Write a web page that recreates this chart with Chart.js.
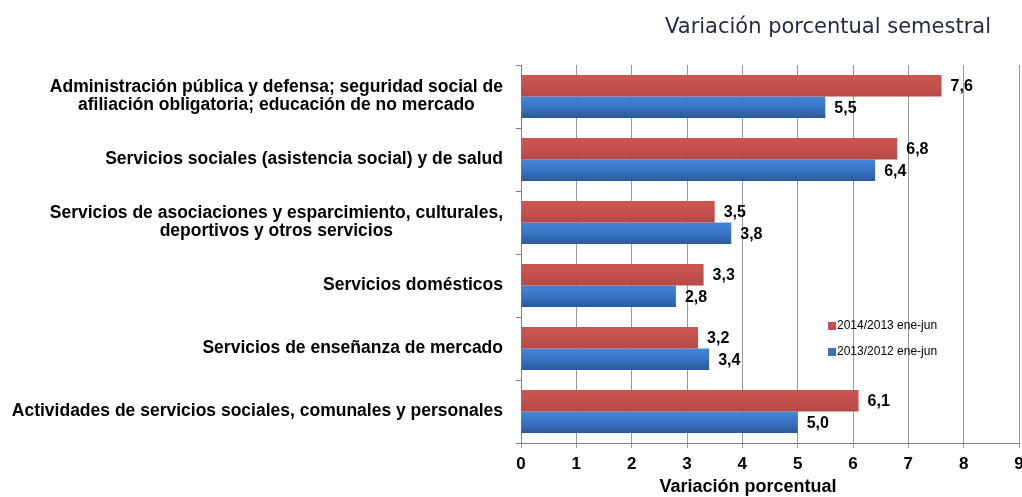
<!DOCTYPE html>
<html>
<head>
<meta charset="utf-8">
<script src="https://cdn.jsdelivr.net/npm/chart.js@4/dist/chart.umd.min.js"></script>
<style>
  html, body { margin: 0; padding: 0; background: #fff; }
  #wrap { width: 1022px; height: 497px; }
</style>
</head>
<body>
<div id="wrap"><canvas id="chart" width="1022" height="497"></canvas></div>
<script>
const categories = [
  ['Administración pública y defensa; seguridad social de', 'afiliación obligatoria; educación de no mercado'],
  ['Servicios sociales (asistencia social) y de salud'],
  ['Servicios de asociaciones y esparcimiento, culturales,', 'deportivos y otros servicios'],
  ['Servicios domésticos'],
  ['Servicios de enseñanza de mercado'],
  ['Actividades de servicios sociales, comunales y personales']
]
const serie2014 = [7.6, 6.8, 3.5, 3.3, 3.2, 6.1]
const serie2013 = [5.5, 6.4, 3.8, 2.8, 3.4, 5.0]
const seriesNames = ['2014/2013 ene-jun', '2013/2012 ene-jun']
const chartTitle = 'Variación porcentual semestral'
const axisTitle = 'Variación porcentual'

const ARIAL = '"Liberation Sans", Arial, sans-serif'
const gradStops = [
  ['#cc5551', '#c4504d', '#b54845'],
  ['#4584d6', '#3874c6', '#2b5a98']
]

// per-bar vertical gradients, value labels, title, category labels, legend
const overlay = {
  id: 'overlay',
  beforeDatasetsDraw(chart) {
    const c = chart.ctx
    chart.data.datasets.forEach((ds, di) => {
      chart.getDatasetMeta(di).data.forEach(bar => {
        const h = bar.height
        const g = c.createLinearGradient(0, bar.y - h / 2, 0, bar.y + h / 2)
        g.addColorStop(0, gradStops[di][0])
        g.addColorStop(0.5, gradStops[di][1])
        g.addColorStop(1, gradStops[di][2])
        bar.options.backgroundColor = g
      })
    })
  },
  afterDatasetsDraw(chart) {
    const c = chart.ctx
    c.save()
    c.font = 'bold 16px ' + ARIAL
    c.fillStyle = '#000'
    c.textAlign = 'left'
    c.textBaseline = 'middle'
    chart.data.datasets.forEach((ds, di) => {
      const meta = chart.getDatasetMeta(di)
      meta.data.forEach((bar, i) => {
        const txt = ds.data[i].toFixed(1).replace('.', ',')
        c.fillText(txt, bar.x + 9, bar.y + 1)
      })
    })
    c.restore()
  },
  afterDraw(chart) {
    const c = chart.ctx
    c.save()
    c.fillStyle = '#222c44'
    c.font = '21px "DejaVu Sans", sans-serif'
    c.textAlign = 'center'
    c.textBaseline = 'middle'
    c.fillText(chartTitle, 828, 28)

    // x axis title, placed as in the original (left of plot centre)
    c.fillStyle = '#000'
    c.font = 'bold 18px ' + ARIAL
    c.fillText(axisTitle, 748, 487)

    // category labels, lines centred on each other
    const yScale = chart.scales.y
    c.font = 'bold 17.5px ' + ARIAL
    const right = yScale.right - 18
    const lh = 18
    categories.forEach((lines, i) => {
      const cy = yScale.getPixelForTick(i)
      const maxW = Math.max(...lines.map(l => c.measureText(l).width))
      const cx = right - maxW / 2
      const y0 = cy - (lines.length - 1) * lh / 2
      lines.forEach((l, j) => c.fillText(l, cx, y0 + j * lh))
    })

    // legend inside plot
    const lx = 828
    const ly = [326, 352]
    const cols = ['#c0504d', '#3a72bf']
    c.font = '12px ' + ARIAL
    c.textAlign = 'left'
    seriesNames.forEach((n, i) => {
      c.fillStyle = cols[i]
      c.fillRect(lx, ly[i] - 4, 8, 8)
      c.fillStyle = '#000'
      c.fillText(n, lx + 9, ly[i])
    })
    c.restore()
  }
}

new Chart(document.getElementById('chart'), {
  type: 'bar',
  data: {
    labels: categories,
    datasets: [
      {
        label: seriesNames[0],
        data: serie2014,
        // scriptable so each bar gets its own options object
        backgroundColor: ctx => '#c0504d',
        borderWidth: 0,
        categoryPercentage: 0.68,
        barPercentage: 1
      },
      {
        label: seriesNames[1],
        data: serie2013,
        backgroundColor: ctx => '#3a72bf',
        borderWidth: 0,
        categoryPercentage: 0.68,
        barPercentage: 1
      }
    ]
  },
  options: {
    indexAxis: 'y',
    responsive: false,
    animation: false,
    layout: { padding: { top: 65, right: 3, left: 0, bottom: 0 } },
    plugins: {
      legend: { display: false },
      title: { display: false },
      tooltip: { enabled: false }
    },
    scales: {
      x: {
        min: 0,
        max: 9,
        ticks: {
          stepSize: 1,
          color: '#000',
          padding: 6,
          font: { family: ARIAL, size: 17, weight: 'bold' }
        },
        grid: { color: '#9a9a9a', tickLength: 5 },
        border: { color: '#808080' },
        title: { display: false },
        afterFit(scale) {
          scale.height = 54
          scale.paddingRight = 0
        }
      },
      y: {
        ticks: { display: false },
        grid: { drawOnChartArea: false, color: '#808080', tickLength: 5 },
        border: { color: '#808080' },
        afterFit(scale) { scale.width = 521 }
      }
    }
  },
  plugins: [overlay]
})
</script>
</body>
</html>
